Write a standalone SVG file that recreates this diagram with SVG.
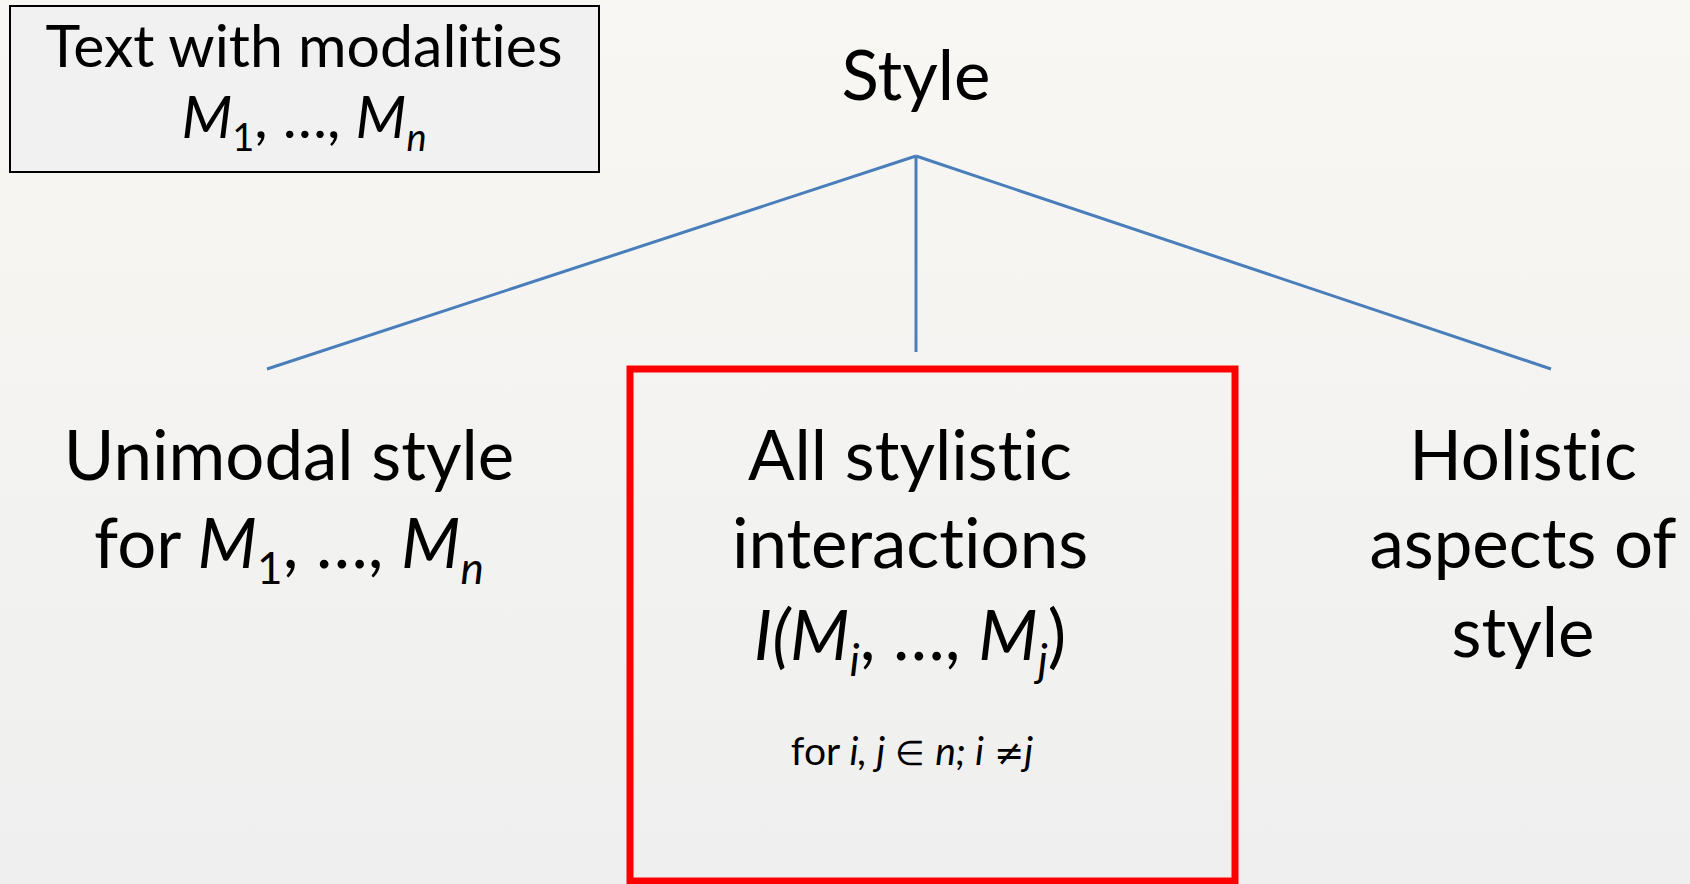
<svg xmlns="http://www.w3.org/2000/svg" width="1690" height="884" viewBox="0 0 1690 884">
<defs>
<linearGradient id="bg" x1="0" y1="0" x2="0" y2="1">
<stop offset="0" stop-color="#f8f7f3"/>
<stop offset="1" stop-color="#efefef"/>
</linearGradient>
<style>
text{font-family:Lato,"Liberation Sans",sans-serif;fill:#000;text-anchor:middle;font-variant-ligatures:none;font-feature-settings:"liga" 0,"dlig" 0}
.big{font-size:69px}
.mid{font-size:59px}
.small{font-size:39px}
.it{font-style:italic}
.sub{font-size:44px}
.subm{font-size:38px}
.sym{font-size:34px}
.ne{font-family:"DejaVu Sans",sans-serif;font-size:36px;font-style:oblique}
.conn{stroke:#4a7ebb;stroke-width:3;fill:none}
</style>
</defs>
<rect width="1690" height="884" fill="url(#bg)"/>
<g id="connectors">
<line class="conn" x1="916" y1="156" x2="267" y2="369"/>
<line class="conn" x1="916" y1="156" x2="916" y2="352"/>
<line class="conn" x1="916" y1="156" x2="1551" y2="369"/>
</g>
<g id="input">
<rect x="10" y="6" width="589" height="166" fill="#f1f1f1" stroke="#000" stroke-width="2"/>
<text class="mid" x="304" y="67">Text with modalities</text>
<text class="mid" x="304" y="138"><tspan class="it">M</tspan><tspan class="subm" dy="13">1</tspan><tspan dy="-13">, …, </tspan><tspan class="it">M</tspan><tspan class="subm it" dy="13">n</tspan></text>
</g>
<g id="style">
<text class="big" x="916" y="100">Style</text>
</g>
<g id="unimodal">
<text class="big" x="289" y="480">Unimodal style</text>
<text class="big" x="289" y="568">for <tspan class="it">M</tspan><tspan class="sub" dy="16">1</tspan><tspan dy="-16">, …, </tspan><tspan class="it">M</tspan><tspan class="sub it" dy="16">n</tspan></text>
</g>
<g id="interactions">
<rect x="630" y="369" width="605" height="512" fill="none" stroke="#ff0000" stroke-width="7"/>
<text class="big" x="910" y="480">All stylistic</text>
<text class="big" x="910" y="568">interactions</text>
<text class="big" x="910" y="660"><tspan class="it">I(M</tspan><tspan class="sub it" dy="16">i</tspan><tspan dy="-16">, …, </tspan><tspan class="it">M</tspan><tspan class="sub it" dy="16">j</tspan><tspan dy="-16">)</tspan></text>
<text class="small" x="912" y="765">for <tspan class="it">i, j</tspan> <tspan class="sym">∈</tspan> <tspan class="it">n; i</tspan> <tspan class="ne">≠</tspan><tspan class="it">j</tspan></text>
</g>
<g id="holistic">
<text class="big" x="1523" y="480">Holistic</text>
<text class="big" x="1523" y="568">aspects of</text>
<text class="big" x="1523" y="657">style</text>
</g>
</svg>
